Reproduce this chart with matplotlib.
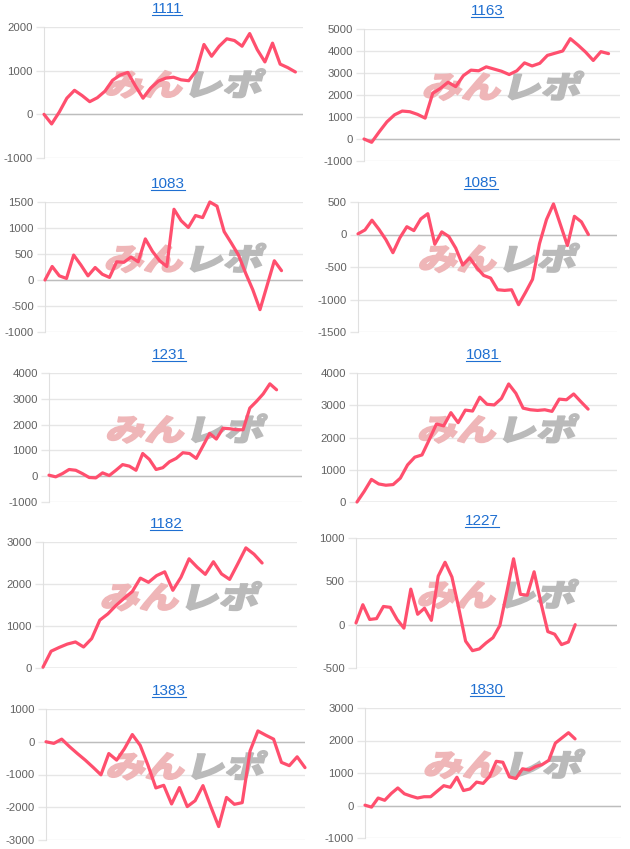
import matplotlib
matplotlib.use('Agg')
import matplotlib.pyplot as plt
import numpy as np
from matplotlib.textpath import TextPath
from matplotlib.font_manager import FontProperties
from matplotlib.patches import PathPatch
from matplotlib.transforms import Affine2D, IdentityTransform
from matplotlib.lines import Line2D

plt.rcParams['font.family'] = ['Liberation Sans', 'DejaVu Sans']

W, H = 630, 849

# --- donnees ---
names = ['1111', '1163', '1083', '1085', '1231', '1081', '1182', '1227', '1383', '1830']

s1111 = [0, -220, 50, 370, 550, 430, 290, 380, 530, 780, 900, 960, 650, 370, 600, 760, 830,
         850, 790, 770, 1000, 1600, 1330, 1560, 1730, 1690, 1560, 1850, 1480, 1200, 1630,
         1150, 1070, 970]
s1163 = [0, -150, 330, 780, 1100, 1270, 1240, 1120, 950, 2080, 2300, 2580, 2380, 2880, 3130,
         3100, 3280, 3180, 3080, 2930, 3100, 3460, 3320, 3440, 3800, 3900, 4000, 4560, 4270,
         3950, 3570, 3970, 3880]
s1083 = [0, 260, 80, 30, 480, 290, 80, 240, 110, 50, 350, 340, 440, 350, 790, 550, 370, 260,
         1360, 1140, 1010, 1240, 1200, 1500, 1420, 930, 710, 480, 130, -190, -570, -100, 370, 180]
s1085 = [10, 70, 220, 80, -80, -280, -50, 120, 60, 240, 320, -150, 40, -30, -210, -470, -360,
         -510, -630, -670, -850, -860, -850, -1080, -890, -690, -140, 230, 470, 150, -170, 280,
         195, 0]
s1231 = [40, -25, 100, 260, 230, 100, -50, -65, 130, 25, 230, 450, 390, 230, 880, 650, 260,
         330, 560, 690, 910, 880, 690, 1170, 1660, 1440, 1860, 1840, 1800, 1800, 2640, 2900,
         3190, 3580, 3350]
s1081 = [0, 330, 700, 560, 520, 540, 740, 1150, 1390, 1460, 1930, 2420, 2360, 2770, 2460, 2850,
         2820, 3250, 3030, 3010, 3210, 3660, 3370, 2910, 2860, 2840, 2860, 2810, 3190, 3170,
         3350, 3110, 2880]
s1182 = [20, 400, 490, 570, 620, 500, 700, 1140, 1290, 1490, 1660, 1820, 2140, 2040, 2200,
         2290, 1850, 2160, 2600, 2400, 2230, 2530, 2240, 2110, 2480, 2860, 2710, 2500]
s1227 = [20, 230, 60, 70, 210, 200, 60, -40, 410, 120, 190, 50, 560, 720, 550, 190, -190, -300,
         -280, -210, -150, -10, 370, 760, 350, 340, 610, 250, -80, -110, -230, -200, 0]
s1383 = [0, -50, 80, -150, -360, -560, -780, -1010, -360, -560, -210, 220, -110, -720, -1410,
         -1330, -1900, -1400, -1980, -1800, -1340, -1980, -2590, -1700, -1910, -1860, -280, 330,
         200, 80, -630, -730, -460, -790]
s1830 = [10, -50, 230, 160, 370, 540, 360, 290, 230, 270, 270, 440, 610, 560, 870, 460, 510,
         720, 680, 900, 1360, 1330, 880, 830, 1130, 1090, 1200, 1260, 1390, 1920, 2080, 2240, 2050]

series = [s1111, s1163, s1083, s1085, s1231, s1081, s1182, s1227, s1383, s1830]

yticks = [
    [-1000, 0, 1000, 2000],
    [-1000, 0, 1000, 2000, 3000, 4000, 5000],
    [-1000, -500, 0, 500, 1000, 1500],
    [-1500, -1000, -500, 0, 500],
    [-1000, 0, 1000, 2000, 3000, 4000],
    [0, 1000, 2000, 3000, 4000],
    [0, 1000, 2000, 3000],
    [-500, 0, 500, 1000],
    [-3000, -2000, -1000, 0, 1000],
    [-1000, 0, 1000, 2000, 3000],
]

# --- mise en page (pixels : gauche, droite, haut, bas) ---
boxes = [(44, 303, 27, 158), (364, 620, 29, 161),
         (45, 303, 202, 332), (358, 617, 202, 332),
         (49, 302, 373, 502), (357, 617, 373, 502),
         (43, 297, 542, 668), (356, 617, 538, 668),
         (46, 305, 709, 840), (365, 621, 708, 838)]
title_pos = [(167, 9), (487, 11), (168, 184), (481, 183), (169, 355),
             (483, 355), (166, 524), (482, 521), (169, 691), (487, 690)]
xmax = [34, 33.5, 36, 37.1, 37.8, 36, 31.3, 38.1, 33, 39]

line_color = '#ff4f6e'
blue = '#1f6fd1'

fig = plt.figure(figsize=(W / 100, H / 100), dpi=100)
fig.patch.set_facecolor('white')

axes = []
titles = []
for k in range(len(names)):
    l, r, t, b = boxes[k]
    ax = fig.add_axes([l / W, 1 - b / H, (r - l) / W, (b - t) / H])
    y = series[k]
    ax.plot(range(len(y)), y, color=line_color, lw=2.3, zorder=3,
            solid_joinstyle='round', solid_capstyle='round', clip_on=False)
    ax.set_xlim(0, xmax[k])
    ax.set_ylim(yticks[k][0], yticks[k][-1])
    ax.set_yticks(yticks[k])
    ax.set_yticklabels([str(v) for v in yticks[k]])
    ax.set_xticks([])
    ax.set_axisbelow(True)
    ax.yaxis.grid(True, color='#e6e6e6', lw=1)
    ax.axhline(0, color='#bdbdbd', lw=1, zorder=1)
    for s in ['top', 'right', 'bottom']:
        ax.spines[s].set_visible(False)
    ax.spines['left'].set_color('#e0e0e0')
    ax.tick_params(axis='y', length=6, width=1, color='#e6e6e6', pad=2,
                   labelsize=8.2, labelcolor='#616161')
    ax.patch.set_alpha(0)
    axes.append(ax)

    tx, ty = title_pos[k]
    titles.append(fig.text(tx / W, 1 - ty / H, names[k], ha='center', va='center',
                           fontsize=11, color=blue))

# filigrane "みんレポ"
fp = FontProperties(family='Noto Sans CJK JP', weight='black')
pa = TextPath((0, 0), 'みん', size=10, prop=fp)
ea = pa.get_extents()
pb = TextPath((ea.x1 + 0.6, 0), 'レポ', size=10, prop=fp)
eb = pb.get_extents()
x0, x1 = ea.x0, eb.x1
y0, y1 = min(ea.y0, eb.y0), max(ea.y1, eb.y1)

for ax in axes:
    bb = ax.get_window_extent()
    cx = bb.x0 + 0.545 * bb.width
    cy = bb.y0 + 0.57 * bb.height
    tr = (Affine2D().translate(-(x0 + x1) / 2, -(y0 + y1) / 2)
          .scale(155 / (x1 - x0), 29 / (y1 - y0))
          .skew_deg(14, 0).translate(cx, cy))
    for p, c in [(pa, '#efb6b8'), (pb, '#bababa')]:
        patch = PathPatch(tr.transform_path(p), transform=IdentityTransform(),
                          fc=c, ec=c, lw=1.2, zorder=2, clip_on=False)
        ax.add_patch(patch)

# soulignement des titres (liens)
fig.canvas.draw()
r = fig.canvas.get_renderer()
for t in titles:
    bb = t.get_window_extent(r)
    yy = (bb.y0 + 1.5) / H
    fig.add_artist(Line2D([bb.x0 / W, bb.x1 / W], [yy, yy], color=blue, lw=0.8))

fig.savefig('out.png', dpi=100)
